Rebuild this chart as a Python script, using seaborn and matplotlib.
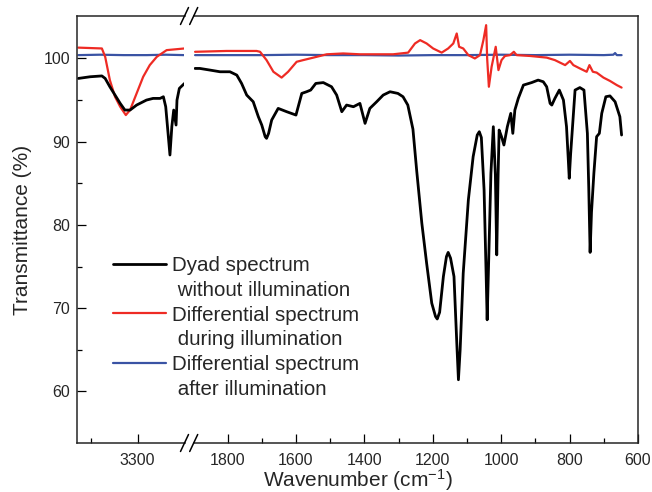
import matplotlib
matplotlib.use("Agg")
import matplotlib.pyplot as plt
import seaborn as sns
import pandas as pd
from matplotlib.lines import Line2D

# ---------------- data ----------------
# high wavenumber segment (left of the axis break)
wn_hi_black = [3426, 3401, 3376, 3369, 3359, 3348, 3337, 3327, 3316, 3302, 3281, 3267,
               3252, 3245, 3240, 3235, 3231, 3227, 3223, 3218, 3216, 3211, 3200]
t_hi_black = [97.6, 97.8, 97.9, 97.6, 96.6, 95.6, 94.6, 93.8, 93.8, 94.4, 95.0, 95.2,
              95.2, 95.4, 94.2, 91.0, 88.4, 91.8, 93.8, 92.0, 95.0, 96.4, 97.0]

wn_hi_red = [3426, 3376, 3369, 3359, 3348, 3337, 3325, 3316, 3302, 3288, 3274, 3259, 3238, 3200]
t_hi_red = [101.3, 101.2, 100.2, 97.4, 95.4, 94.2, 93.2, 93.8, 95.8, 97.8, 99.2, 100.2, 101.0, 101.2]

wn_hi_blue = [3426, 3380, 3330, 3280, 3240, 3200]
t_hi_blue = [100.4, 100.45, 100.4, 100.4, 100.45, 100.4]

# low wavenumber segment (right of the axis break)
wn_lo_black = [1895, 1881, 1851, 1822, 1793, 1773, 1759, 1744, 1725, 1710, 1700, 1690, 1686,
               1680, 1671, 1652, 1627, 1600, 1583, 1569, 1557, 1542, 1520, 1496, 1481, 1466,
               1452, 1432, 1413, 1398, 1384, 1364, 1345, 1325, 1302, 1287, 1273, 1258, 1247,
               1232, 1218, 1203, 1192, 1187, 1180, 1169, 1160, 1155, 1148, 1138, 1130, 1125,
               1120, 1111, 1096, 1082, 1070, 1064, 1058, 1050, 1044, 1041, 1037, 1030, 1023,
               1017, 1013, 1009, 1006, 999, 992, 982, 972, 966, 960, 950, 935, 911, 892, 877,
               867, 857, 852, 843, 830, 818, 809, 804, 801, 797, 784, 770, 758, 748, 744, 740,
               736, 729, 721, 713, 706, 694, 682, 667, 653, 648]
t_lo_black = [98.8, 98.8, 98.6, 98.4, 98.4, 98.0, 97.0, 95.6, 94.8, 93.0, 92.0, 90.6, 90.4,
              91.0, 92.6, 94.0, 93.6, 93.2, 95.8, 96.0, 96.2, 97.0, 97.1, 96.6, 95.6, 93.6,
              94.4, 94.2, 94.6, 92.2, 94.0, 94.8, 95.6, 96.0, 95.8, 95.4, 94.4, 91.5, 86.5,
              80.2, 75.4, 70.6, 69.0, 68.7, 69.5, 73.8, 76.2, 76.7, 76.0, 73.8, 66.0, 61.4,
              65.0, 74.2, 83.0, 88.2, 90.8, 91.2, 90.5, 84.2, 74.0, 68.6, 75.0, 86.2, 91.8,
              86.0, 76.4, 86.0, 91.4, 90.6, 89.6, 91.8, 93.4, 91.0, 93.8, 95.2, 96.8, 97.1,
              97.4, 97.2, 96.6, 94.6, 94.4, 95.2, 96.2, 95.0, 91.8, 88.0, 85.6, 88.5, 96.2,
              96.5, 96.2, 91.0, 84.5, 76.7, 81.5, 86.2, 90.6, 91.0, 93.4, 95.4, 95.5, 94.8,
              93.0, 90.8]

wn_lo_red = [1895, 1803, 1715, 1705, 1686, 1666, 1642, 1623, 1598, 1579, 1549, 1510, 1462,
             1413, 1364, 1316, 1272, 1252, 1237, 1218, 1199, 1174, 1155, 1140, 1130, 1123,
             1111, 1096, 1077, 1062, 1052, 1044, 1041, 1036, 1028, 1016, 1008, 999, 989, 974,
             963, 955, 916, 867, 843, 813, 799, 789, 770, 750, 742, 732, 721, 701, 682, 662, 648]
t_lo_red = [100.8, 100.9, 100.9, 100.8, 99.8, 98.4, 97.7, 98.4, 99.6, 99.8, 100.1, 100.5,
            100.6, 100.5, 100.5, 100.5, 100.7, 101.8, 102.2, 101.8, 101.2, 100.7, 101.2,
            101.8, 103.0, 101.4, 101.2, 100.4, 100.0, 100.4, 102.2, 104.0, 100.0, 96.6, 99.0,
            101.4, 98.6, 99.8, 100.3, 100.4, 100.8, 100.4, 100.3, 100.1, 99.8, 99.2, 99.7,
            99.2, 98.8, 98.4, 99.2, 98.4, 98.3, 97.7, 97.3, 96.8, 96.5]

wn_lo_blue = [1895, 1800, 1700, 1600, 1500, 1400, 1300, 1200, 1100, 1000, 900, 800, 700,
              672, 667, 662, 648]
t_lo_blue = [100.4, 100.4, 100.4, 100.45, 100.4, 100.4, 100.35, 100.4, 100.4, 100.45,
             100.4, 100.45, 100.4, 100.45, 100.65, 100.4, 100.4]

labels = ["Dyad spectrum", " without illumination",
          "Differential spectrum", " during illumination",
          "Differential spectrum", " after illumination"]
colors = {"black": "#000000", "red": "#ee2b24", "blue": "#3a53a4"}

# ---------------- style ----------------
sns.set_style("ticks")
plt.rcParams["font.family"] = ["Liberation Sans", "DejaVu Sans"]
plt.rcParams["mathtext.default"] = "regular"
plt.rcParams["xtick.direction"] = "in"
plt.rcParams["ytick.direction"] = "in"

fig = plt.figure(figsize=(6.52, 4.92), dpi=100)
W, H = 652.0, 492.0
left, right_edge, bottom, top = 77, 638, 443, 16
brk1, brk2 = 184.5, 193.7
ax1 = fig.add_axes([left / W, 1 - bottom / H, (brk1 - left) / W, (bottom - top) / H])
ax2 = fig.add_axes([brk2 / W, 1 - bottom / H, (right_edge - brk2) / W, (bottom - top) / H])

def draw(ax, x, y, c, lw):
    df = pd.DataFrame({"x": x, "y": y})
    sns.lineplot(data=df, x="x", y="y", ax=ax, color=c, lw=lw, estimator=None, sort=False)

for ax, segs in [(ax1, [(wn_hi_blue, t_hi_blue, "blue"), (wn_hi_red, t_hi_red, "red"),
                        (wn_hi_black, t_hi_black, "black")]),
                 (ax2, [(wn_lo_blue, t_lo_blue, "blue"), (wn_lo_red, t_lo_red, "red"),
                        (wn_lo_black, t_lo_black, "black")])]:
    for x, y, c in segs:
        draw(ax, x, y, colors[c], 2.0 if c == "black" else 1.6)

ylim = (53.8, 105.1)
ax1.set_xlim(3429, 3200)
ax2.set_xlim(1899, 600)
for ax in (ax1, ax2):
    ax.set_ylim(*ylim)
    ax.set_xlabel("")
    ax.set_ylabel("")
    for s in ax.spines.values():
        s.set_linewidth(1.1)

ax1.spines["right"].set_visible(False)
ax2.spines["left"].set_visible(False)

ax1.set_xticks([3300])
ax1.set_xticks([3400], minor=True)
ax2.set_xticks([1800, 1600, 1400, 1200, 1000, 800, 600])
ax2.set_xticks([1700, 1500, 1300, 1100, 900, 700], minor=True)
ax1.set_yticks([60, 70, 80, 90, 100])
ax1.set_yticks([65, 75, 85, 95], minor=True)
ax2.set_yticks([])
ax2.set_yticks([], minor=True)

for ax in (ax1, ax2):
    ax.tick_params(axis="both", which="major", length=6.5, width=0.9, labelsize=11.5,
                   pad=5, top=False, right=False, color="black")
    ax.tick_params(axis="both", which="minor", length=3.5, width=0.9, top=False, right=False,
                   color="black")
ax1.tick_params(axis="x", pad=7)
ax2.tick_params(axis="x", pad=7)

ax1.set_ylabel("Transmittance (%)", fontsize=15, labelpad=8)
fig.text((left + right_edge) / 2 / W, 1 - 480 / H, "Wavenumber (cm$^{-1}$)",
         ha="center", va="center", fontsize=15)

# break marks
for yb in (top, bottom):
    for xc in (brk1, brk2):
        fig.add_artist(Line2D([(xc - 4) / W, (xc + 4) / W],
                              [1 - (yb + 8.5) / H, 1 - (yb - 8.5) / H],
                              color="black", lw=1.1, transform=fig.transFigure))

# legend
lb = ax2.lines[2]
lr = ax2.lines[1]
lbl = ax2.lines[0]
blank = Line2D([], [], color="none")
handles = [lb, blank, lr, blank, lbl, blank]
fig.legend(handles, labels, loc="upper left", bbox_to_anchor=(112.7 / W, 1 - 256 / H),
           frameon=False, fontsize=14.8, handlelength=2.6, handletextpad=0.28,
           borderpad=0, borderaxespad=0, labelspacing=0.28)

fig.savefig("out.png", dpi=100)
